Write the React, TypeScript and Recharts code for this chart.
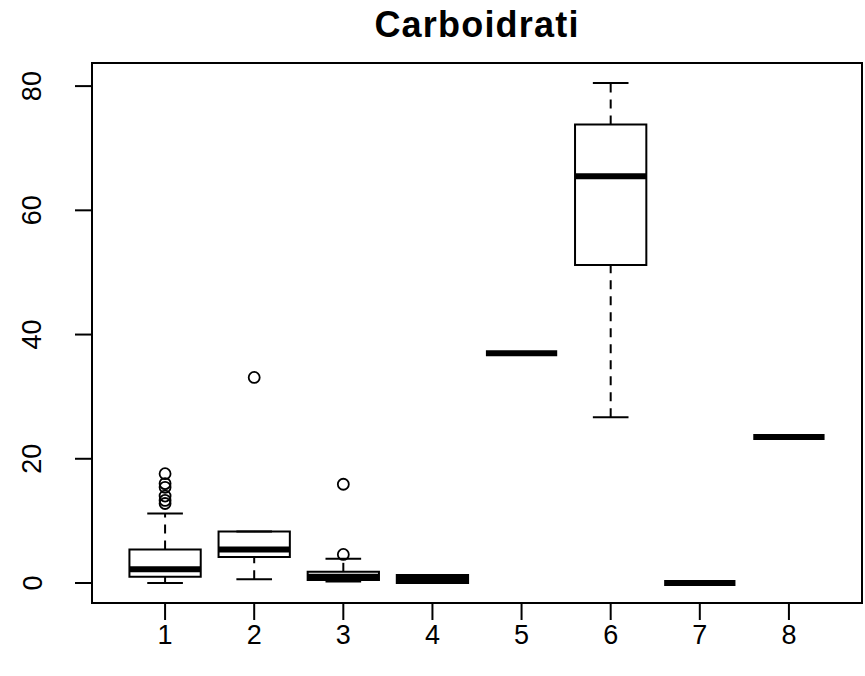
import React from 'react';
import { ComposedChart, XAxis, YAxis, ReferenceArea, ReferenceLine, Scatter } from 'recharts';

const categories = [1, 2, 3, 4, 5, 6, 7, 8];
const categoryLabels = ['1', '2', '3', '4', '5', '6', '7', '8'];
const whiskerLow = [0, 0.6, 0.25, 0, 37, 26.7, 0, 23.5];
const q1 = [1.0, 4.2, 0.5, 0, 37, 51.2, 0, 23.5];
const median = [2.2, 5.4, 1.0, 0.65, 37, 65.5, 0, 23.5];
const q3 = [5.4, 8.3, 1.8, 1.3, 37, 73.8, 0, 23.5];
const whiskerHigh = [11.2, 8.3, 3.9, 1.3, 37, 80.5, 0, 23.5];
const outliers1 = [17.6, 16.0, 15.4, 14.0, 13.3, 12.8];
const outliers2 = [33.1];
const outliers3 = [4.6, 15.9];
const yTicks = [0, 20, 40, 60, 80];
const title = 'Carboidrati';

const outlierGroups = [outliers1, outliers2, outliers3, [], [], [], [], []];
const outlierData = categories.flatMap((c, i) => outlierGroups[i].map((v) => ({ x: c, y: v })));

const xDomain = [0.18, 8.82];
const yDomain = [-3.22, 83.72];
const halfBox = 0.4;
const halfStaple = 0.2;
const FONT = '"Liberation Sans", Arial, sans-serif';

const XTick = (props: any) => {
  const { x, y, payload } = props;
  return (
    <text x={x} y={y + 22} textAnchor="middle" fontFamily={FONT} fontSize={27} fill="#000">
      {categoryLabels[categories.indexOf(payload.value)]}
    </text>
  );
};

const YTick = (props: any) => {
  const { y, payload } = props;
  const lx = 32;
  return (
    <text
      x={lx}
      y={y}
      dy={9.5}
      transform={`rotate(-90, ${lx}, ${y})`}
      textAnchor="middle"
      fontFamily={FONT}
      fontSize={27}
      fill="#000"
    >
      {payload.value}
    </text>
  );
};

const OutlierShape = (props: any) => (
  <circle cx={props.cx} cy={props.cy} r={5.5} fill="none" stroke="#000" strokeWidth={1.8} />
);

export default function App() {
  return (
    <div style={{ position: 'absolute', left: 0, top: 0, width: 865, height: 676, background: '#fff' }}>
      <svg width={865} height={60} style={{ position: 'absolute', left: 0, top: 0 }}>
        <text x={477} y={37} textAnchor="middle" fontFamily={FONT} fontWeight="bold" fontSize={36} letterSpacing={1.2} fill="#000">
          {title}
        </text>
      </svg>
      <div style={{ position: 'absolute', left: 0, top: 0 }}>
        <ComposedChart width={865} height={676} margin={{ top: 63, right: 3, bottom: 0, left: 0 }}>
          <XAxis
            dataKey="x"
            type="number"
            domain={xDomain}
            allowDataOverflow
            ticks={categories}
            tickSize={17}
            tickLine={{ stroke: '#000', strokeWidth: 2 }}
            axisLine={false}
            tick={<XTick />}
            height={73}
            interval={0}
          />
          <YAxis
            dataKey="y"
            type="number"
            domain={yDomain}
            allowDataOverflow
            ticks={yTicks}
            tickSize={17}
            tickLine={{ stroke: '#000', strokeWidth: 2 }}
            axisLine={false}
            tick={<YTick />}
            width={92}
            interval={0}
          />
          {categories.map((c, i) => (
            <ReferenceLine
              key={`wl${i}`}
              segment={[{ x: c, y: whiskerLow[i] }, { x: c, y: q1[i] }]}
              stroke="#000"
              strokeWidth={2}
              strokeDasharray="9 7"
              ifOverflow="visible"
            />
          ))}
          {categories.map((c, i) => (
            <ReferenceLine
              key={`wh${i}`}
              segment={[{ x: c, y: q3[i] }, { x: c, y: whiskerHigh[i] }]}
              stroke="#000"
              strokeWidth={2}
              strokeDasharray="9 7"
              ifOverflow="visible"
            />
          ))}
          {categories.map((c, i) => (
            <ReferenceLine
              key={`sl${i}`}
              segment={[{ x: c - halfStaple, y: whiskerLow[i] }, { x: c + halfStaple, y: whiskerLow[i] }]}
              stroke="#000"
              strokeWidth={2}
              ifOverflow="visible"
            />
          ))}
          {categories.map((c, i) => (
            <ReferenceLine
              key={`sh${i}`}
              segment={[{ x: c - halfStaple, y: whiskerHigh[i] }, { x: c + halfStaple, y: whiskerHigh[i] }]}
              stroke="#000"
              strokeWidth={2}
              ifOverflow="visible"
            />
          ))}
          {categories.map((c, i) => (
            <ReferenceArea
              key={`b${i}`}
              x1={c - halfBox}
              x2={c + halfBox}
              y1={q1[i]}
              y2={q3[i]}
              fill="#fff"
              fillOpacity={1}
              stroke="#000"
              strokeWidth={2}
              ifOverflow="visible"
            />
          ))}
          {categories.map((c, i) => (
            <ReferenceLine
              key={`m${i}`}
              segment={[{ x: c - halfBox, y: median[i] }, { x: c + halfBox, y: median[i] }]}
              stroke="#000"
              strokeWidth={6}
              ifOverflow="visible"
            />
          ))}
          <ReferenceArea
            x1={xDomain[0]}
            x2={xDomain[1]}
            y1={yDomain[0]}
            y2={yDomain[1]}
            fill="none"
            stroke="#000"
            strokeWidth={2}
            ifOverflow="visible"
          />
          <Scatter data={outlierData} dataKey="y" shape={<OutlierShape />} isAnimationActive={false} />
        </ComposedChart>
      </div>
    </div>
  );
}
